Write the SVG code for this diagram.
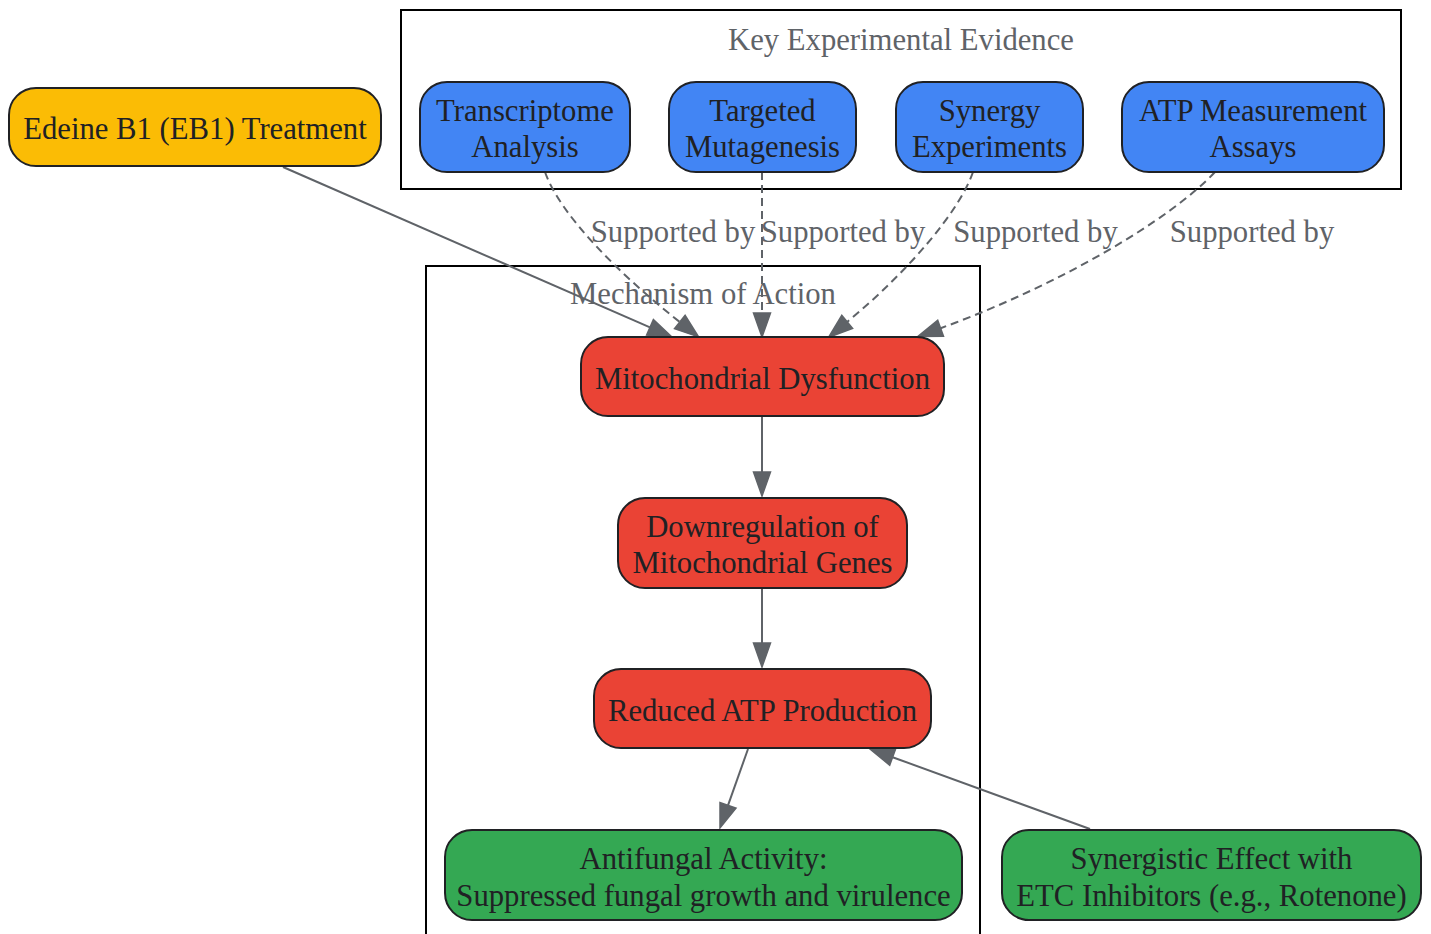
<svg xmlns="http://www.w3.org/2000/svg" width="1431" height="934" viewBox="0 0 1431 934">
<style>
text{font-family:"Liberation Serif","Times New Roman",serif;font-size:30.7px;text-anchor:middle}
.nt{fill:#202124}
.lt{fill:#5f6368}
.cl{fill:none;stroke:#000;stroke-width:2}
.n{stroke:#202124;stroke-width:2}
.y{fill:#fbbc05}.b{fill:#4285f4}.r{fill:#ea4335}.g{fill:#34a853}
.e{fill:none;stroke:#5f6368;stroke-width:2}
.d{stroke-dasharray:8,5}
.ah{fill:#5f6368;stroke:#5f6368;stroke-width:1.5;stroke-linejoin:miter}
</style>
<rect width="1431" height="934" fill="#fff"/>
<g id="cluster_evidence">
<rect class="cl" x="401" y="10" width="1000" height="179"/>
<text class="lt" x="901" y="50">Key Experimental Evidence</text>
</g>
<g id="cluster_mechanism">
<rect class="cl" x="426" y="266" width="554" height="690"/>
<text class="lt" x="703" y="304">Mechanism of Action</text>
</g>
<g id="connectors">
<path class="e" d="M283,167 L650,327.4"/>
<polygon class="ah" points="672,337 646.6,335.2 653.4,319.6"/>
<path class="e d" d="M545,172 C560,215 620,275 679.8,322"/>
<polygon class="ah" points="698.6,336.9 674.5,328.7 685.1,315.3"/>
<path class="e d" d="M762,172 L762,313"/>
<polygon class="ah" points="762,337 753.5,313 770.5,313"/>
<path class="e d" d="M973,172 C960,210 910,270 847.2,321.9"/>
<polygon class="ah" points="828.7,337.2 841.8,315.4 852.6,328.5"/>
<path class="e d" d="M1215,172 C1170,220 1058,285.7 940.6,328.2"/>
<polygon class="ah" points="918,336.4 937.7,320.2 943.5,336.2"/>
<path class="e" d="M762,416 L762,472"/>
<polygon class="ah" points="762,496 753.5,472 770.5,472"/>
<path class="e" d="M762,588 L762,643"/>
<polygon class="ah" points="762,667 753.5,643 770.5,643"/>
<path class="e" d="M748,749 L728,805.4"/>
<polygon class="ah" points="720,828 720,802.6 736,808.2"/>
<path class="e" d="M1090,829 L892.6,757.2"/>
<polygon class="ah" points="870,749 895.5,749.2 889.7,765.2"/>
<text class="lt" x="673" y="242">Supported by</text>
<text class="lt" x="843" y="242">Supported by</text>
<text class="lt" x="1035.5" y="242">Supported by</text>
<text class="lt" x="1252" y="242">Supported by</text>
</g>
<g id="eb1">
<rect class="n y" x="9" y="88" width="372" height="78" rx="27"/>
<text class="nt" x="195" y="139">Edeine B1 (EB1) Treatment</text>
</g>
<g id="transcriptome">
<rect class="n b" x="420" y="82" width="210" height="90" rx="27"/>
<text class="nt" x="525" y="121">Transcriptome</text>
<text class="nt" x="525" y="157">Analysis</text>
</g>
<g id="mutagenesis">
<rect class="n b" x="669" y="82" width="187" height="90" rx="27"/>
<text class="nt" x="762.5" y="121">Targeted</text>
<text class="nt" x="762.5" y="157">Mutagenesis</text>
</g>
<g id="synergy_exp">
<rect class="n b" x="896" y="82" width="187" height="90" rx="27"/>
<text class="nt" x="989.5" y="121">Synergy</text>
<text class="nt" x="989.5" y="157">Experiments</text>
</g>
<g id="atp_assays">
<rect class="n b" x="1122" y="82" width="262" height="90" rx="27"/>
<text class="nt" x="1253" y="121">ATP Measurement</text>
<text class="nt" x="1253" y="157">Assays</text>
</g>
<g id="mito">
<rect class="n r" x="581" y="337" width="363" height="79" rx="27"/>
<text class="nt" x="762.5" y="389">Mitochondrial Dysfunction</text>
</g>
<g id="downreg">
<rect class="n r" x="618" y="498" width="289" height="90" rx="27"/>
<text class="nt" x="762.5" y="537">Downregulation of</text>
<text class="nt" x="762.5" y="573">Mitochondrial Genes</text>
</g>
<g id="atp">
<rect class="n r" x="594" y="669" width="337" height="79" rx="27"/>
<text class="nt" x="762.5" y="721">Reduced ATP Production</text>
</g>
<g id="antifungal">
<rect class="n g" x="445" y="830" width="517" height="90" rx="27"/>
<text class="nt" x="703.5" y="869">Antifungal Activity:</text>
<text class="nt" x="703.5" y="906">Suppressed fungal growth and virulence</text>
</g>
<g id="synergistic">
<rect class="n g" x="1002" y="830" width="419" height="90" rx="27"/>
<text class="nt" x="1211.5" y="869">Synergistic Effect with</text>
<text class="nt" x="1211.5" y="906">ETC Inhibitors (e.g., Rotenone)</text>
</g>
</svg>
